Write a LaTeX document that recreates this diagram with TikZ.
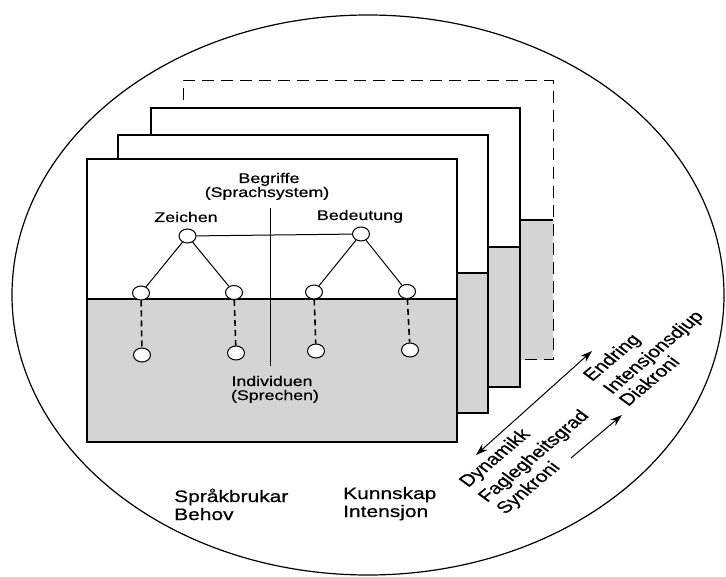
\documentclass[tikz,border=0pt]{standalone}
\usepackage{fontspec}
\setmainfont{Liberation Sans}[FakeBold=0.6]
\newfontfamily\widefont[FakeStretch=1.27,FakeBold=0.6]{Liberation Sans}
\usetikzlibrary{arrows.meta,shapes.geometric}
\tikzset{
  panel/.style={draw=black, line width=1.1pt, fill=white},
  greypart/.style={draw=black, line width=1.1pt, fill=black!17},
  dot/.style={draw=black, line width=1pt, fill=white, ellipse, minimum width=17pt, minimum height=14pt, inner sep=0pt},
  tree/.style={line width=1pt},
  drop/.style={line width=1.6pt, dash pattern=on 6pt off 4pt},
  lbl/.style={inner sep=0pt, anchor=base, font=\widefont\fontsize{14}{16}\selectfont},
  biglbl/.style={inner sep=0pt, anchor=base west, font=\widefont\fontsize{16.5}{18}\selectfont},
  rotlbl/.style={inner sep=0pt, anchor=base west, xscale=1.27, rotate=47, font=\fontsize{16.5}{18}\selectfont},
  arr/.style={line width=1pt, -{Stealth[length=12pt,width=8pt]}},
  darr/.style={line width=1pt, {Stealth[length=12pt,width=8pt]}-{Stealth[length=12pt,width=8pt]}},
}
\begin{document}
\begin{tikzpicture}[x=1pt,y=-1pt]
\useasboundingbox (0,0) rectangle (726,577);
\fill[white] (0,0) rectangle (726,577);
\draw[line width=1.2pt] (368,295) ellipse [x radius=356, y radius=280];

% dashed (future) panel
\fill[black!17] (183,220) rectangle (553,360);
\draw[line width=1pt, dash pattern=on 12pt off 7pt] (183,100) -- (183,81) -- (553,81) -- (553,360) -- (520,360);
\draw[line width=1.1pt] (520,220) -- (553,220);

% panel 3
\draw[panel] (151,108) rectangle (520,387);
\draw[greypart] (151,247) rectangle (520,387);
% panel 2
\draw[panel] (118,135) rectangle (488,413);
\draw[greypart] (118,273) rectangle (488,413);
% front panel
\draw[panel] (87,159) rectangle (457,442);
\draw[greypart] (87,299) rectangle (457,442);

% divider
\coordinate (dtop) at (270,208);
\coordinate (dbot) at (270,366);
\draw[tree] (dtop) -- (dbot);

% circles
\node[dot] (zt) at (187.5,236) {};
\node[dot] (bt) at (361,234) {};
\node[dot] (z1) at (141,293) {};
\node[dot] (z2) at (234,292.5) {};
\node[dot] (b1) at (314,292) {};
\node[dot] (b2) at (407,291.5) {};
\node[dot] (z1b) at (142,355) {};
\node[dot] (z2b) at (236,353) {};
\node[dot] (b1b) at (316,351) {};
\node[dot] (b2b) at (410,350) {};

\draw[tree] (zt) -- (bt);
\draw[tree] (zt) -- (z1);
\draw[tree] (zt) -- (z2);
\draw[tree] (bt) -- (b1);
\draw[tree] (bt) -- (b2);
\draw[drop] (z1) -- (z1b);
\draw[drop] (z2) -- (z2b);
\draw[drop] (b1) -- (b1b);
\draw[drop] (b2) -- (b2b);

% panel labels
\node[lbl] (begr) at (269,183) {Begriffe};
\node[lbl] (spsys) at (267,197) {(Sprachsystem)};
\node[lbl] (zeich) at (186,222) {Zeichen};
\node[lbl] (bedeu) at (360,220) {Bedeutung};
\node[lbl] (indiv) at (272,386) {Individuen};
\node[lbl] (sprech) at (275,400) {(Sprechen)};

% bottom labels
\node[biglbl] (sprak) at (174,502) {Språkbrukar};
\node[biglbl] (behov) at (174,520) {Behov};
\node[biglbl] (kunn) at (343,499) {Kunnskap};
\node[biglbl] (inten) at (343,517) {Intensjon};

% arrows
\coordinate (a1) at (476,455);
\coordinate (a2) at (592,351);
\draw[darr] (a1) -- (a2);
\coordinate (s1) at (571,458);
\coordinate (s2) at (622,415);
\draw[arr] (s1) -- (s2);

% rotated labels
\node[rotlbl] (dyn) at (468,488) {Dynamikk};
\node[rotlbl] (fag) at (487,503) {Faglegheitsgrad};
\node[rotlbl] (syn) at (505,515) {Synkroni};
\node[rotlbl] (endr) at (592,382) {Endring};
\node[rotlbl] (intd) at (612,395) {Intensjonsdjup};
\node[rotlbl] (diak) at (628,407) {Diakroni};
\end{tikzpicture}
\end{document}
